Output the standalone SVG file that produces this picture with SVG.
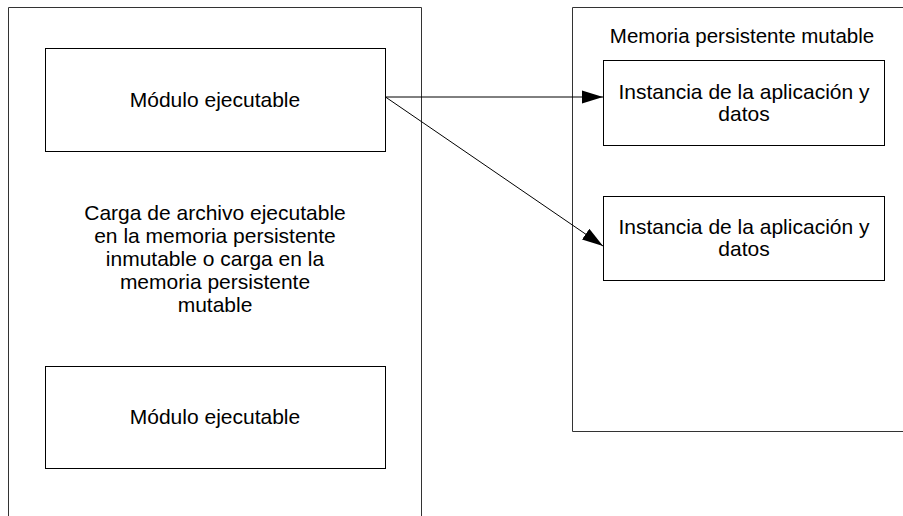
<svg xmlns="http://www.w3.org/2000/svg" width="903" height="516" viewBox="0 0 903 516">
<style>
.box{fill:#fff;stroke:#000;stroke-width:1}
.cont{fill:none;stroke:#333;stroke-width:1}
.t{font-family:"Liberation Sans",Arial,sans-serif;font-size:21px;fill:#000;text-anchor:middle}
.conn{stroke:#000;stroke-width:1;fill:none}
</style>
<defs>
<marker id="ah" markerUnits="userSpaceOnUse" markerWidth="22" markerHeight="14" refX="21" refY="7" orient="auto" viewBox="0 0 22 14">
<path d="M0,0.5 L21,7 L0,13.5 Z" fill="#000"/>
</marker>
</defs>
<rect width="903" height="516" fill="#fff"/>
<g id="left-container">
<path class="cont" d="M8.5,516 V7.5 H421.5 V516"/>
<text class="t" x="215" y="220">Carga de archivo ejecutable</text>
<text class="t" x="215" y="243">en la memoria persistente</text>
<text class="t" x="215" y="266">inmutable o carga en la</text>
<text class="t" x="215" y="289">memoria persistente</text>
<text class="t" x="215" y="312">mutable</text>
</g>
<g id="right-container">
<path class="cont" d="M903,7.5 H572.5 V431.5 H903"/>
<text class="t" x="742" y="43" style="font-size:20.5px">Memoria persistente mutable</text>
</g>
<g id="modulo1">
<rect class="box" x="45.5" y="48.5" width="340" height="103"/>
<text class="t" x="215" y="107">Módulo ejecutable</text>
</g>
<g id="modulo2">
<rect class="box" x="45.5" y="366.5" width="340" height="102"/>
<text class="t" x="215" y="424">Módulo ejecutable</text>
</g>
<g id="instancia1">
<rect class="box" x="603.5" y="60.5" width="281" height="85"/>
<text class="t" x="744" y="99">Instancia de la aplicación y</text>
<text class="t" x="744" y="121">datos</text>
</g>
<g id="instancia2">
<rect class="box" x="603.5" y="196.5" width="281" height="84"/>
<text class="t" x="744" y="234">Instancia de la aplicación y</text>
<text class="t" x="744" y="256">datos</text>
</g>
<g id="connectors">
<line class="conn" x1="385.5" y1="97" x2="603" y2="97" marker-end="url(#ah)"/>
<line class="conn" x1="385.5" y1="97" x2="603" y2="246" marker-end="url(#ah)"/>
</g>
</svg>
